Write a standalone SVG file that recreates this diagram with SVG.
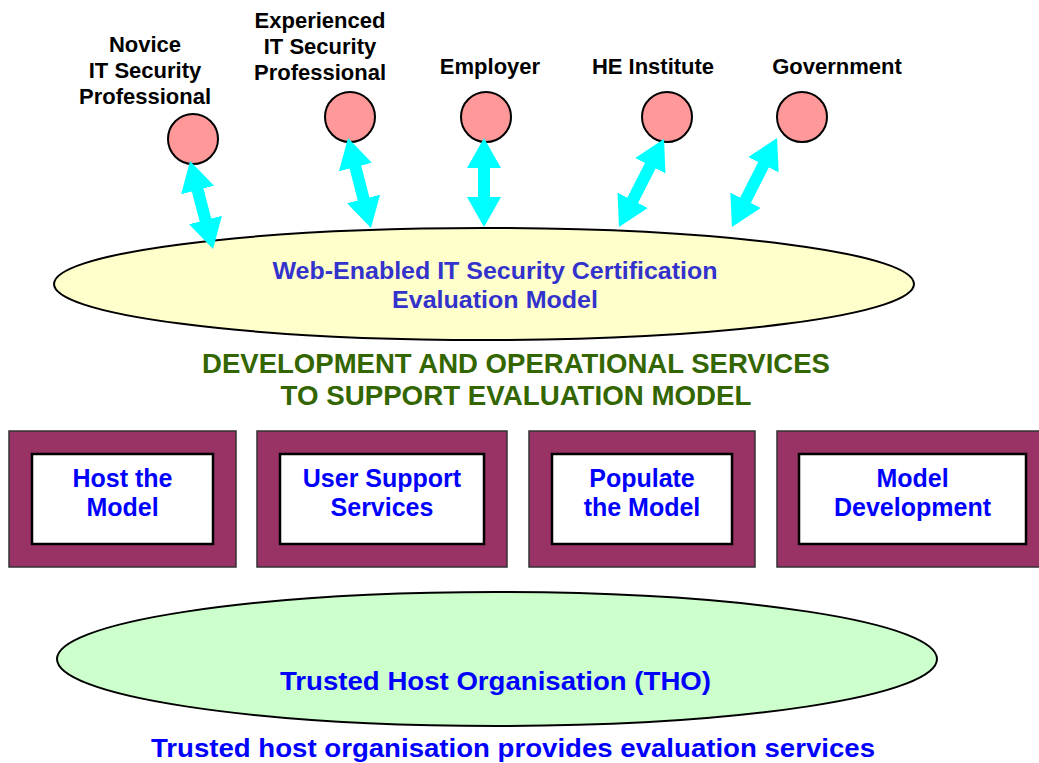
<svg xmlns="http://www.w3.org/2000/svg" width="1039" height="763" viewBox="0 0 1039 763">
  <style>
    text { font-family: "Liberation Sans", Arial, sans-serif; font-weight: bold; text-anchor: middle; }
    .who { font-size: 22px; fill: #000; }
    .party { fill: #FF9999; stroke: #000; stroke-width: 2; }
    .model { fill: #FFFFCC; stroke: #000; stroke-width: 2; }
    .model-t { font-size: 24.5px; fill: #3333CC; }
    .heading { font-size: 28px; fill: #336600; }
    .frame { fill: #993366; stroke: #333; stroke-width: 1.5; }
    .panel { fill: #FFFFFF; stroke: #000; stroke-width: 2.5; }
    .svc { font-size: 25px; fill: #0000FF; }
    .tho { fill: #CCFFCC; stroke: #000; stroke-width: 2; }
    .tho-t { font-size: 26px; fill: #0000FF; }
    .link { stroke: #00FFFF; stroke-width: 12; fill: none; marker-start: url(#head); marker-end: url(#head); }
  </style>
  <defs>
    <marker id="head" markerUnits="userSpaceOnUse" markerWidth="32" markerHeight="36" viewBox="0 -18 32 36" refX="10" refY="0" orient="auto-start-reverse">
      <path d="M0,-17 L30,0 L0,17 z" fill="#00FFFF"/>
    </marker>
  </defs>

  <rect width="1039" height="763" fill="#FFFFFF"/>

  <!-- stakeholders -->
  <g id="novice">
    <text class="who" x="145" y="52">Novice</text>
    <text class="who" x="145" y="78">IT Security</text>
    <text class="who" x="145" y="104">Professional</text>
    <circle class="party" cx="193" cy="139" r="25"/>
  </g>
  <g id="experienced">
    <text class="who" x="320" y="28">Experienced</text>
    <text class="who" x="320" y="54">IT Security</text>
    <text class="who" x="320" y="80">Professional</text>
    <circle class="party" cx="350" cy="117" r="25"/>
  </g>
  <g id="employer">
    <text class="who" x="490" y="74">Employer</text>
    <circle class="party" cx="486" cy="117" r="25"/>
  </g>
  <g id="he-institute">
    <text class="who" x="653" y="74">HE Institute</text>
    <circle class="party" cx="667" cy="117" r="25"/>
  </g>
  <g id="government">
    <text class="who" x="837" y="74">Government</text>
    <circle class="party" cx="802" cy="117" r="25"/>
  </g>

  <!-- evaluation model -->
  <g id="evaluation-model">
    <ellipse class="model" cx="484" cy="284" rx="430" ry="56"/>
    <text class="model-t" x="495" y="279" textLength="445" lengthAdjust="spacingAndGlyphs">Web-Enabled IT Security Certification</text>
    <text class="model-t" x="495" y="308" textLength="206" lengthAdjust="spacingAndGlyphs">Evaluation Model</text>
  </g>

  <!-- services heading -->
  <g id="services-heading">
    <text class="heading" x="516" y="373" textLength="628" lengthAdjust="spacingAndGlyphs">DEVELOPMENT AND OPERATIONAL SERVICES</text>
    <text class="heading" x="516" y="405" textLength="471" lengthAdjust="spacingAndGlyphs">TO SUPPORT EVALUATION MODEL</text>
  </g>

  <!-- service boxes -->
  <g id="host-model">
    <rect class="frame" x="9" y="431" width="227" height="136"/>
    <rect class="panel" x="32" y="454" width="181" height="90"/>
    <text class="svc" x="122.5" y="487">Host the</text>
    <text class="svc" x="122.5" y="516">Model</text>
  </g>
  <g id="user-support">
    <rect class="frame" x="257" y="431" width="250" height="136"/>
    <rect class="panel" x="280" y="454" width="204" height="90"/>
    <text class="svc" x="382" y="487">User Support</text>
    <text class="svc" x="382" y="516">Services</text>
  </g>
  <g id="populate-model">
    <rect class="frame" x="529" y="431" width="226" height="136"/>
    <rect class="panel" x="552" y="454" width="180" height="90"/>
    <text class="svc" x="642" y="487">Populate</text>
    <text class="svc" x="642" y="516">the Model</text>
  </g>
  <g id="model-development">
    <rect class="frame" x="777" y="431" width="272" height="136"/>
    <rect class="panel" x="799" y="454" width="227" height="90"/>
    <text class="svc" x="912.5" y="487">Model</text>
    <text class="svc" x="912.5" y="516">Development</text>
  </g>

  <!-- trusted host organisation -->
  <g id="tho">
    <ellipse class="tho" cx="497" cy="659" rx="440" ry="67"/>
    <text class="tho-t" x="495.5" y="690" textLength="431" lengthAdjust="spacingAndGlyphs">Trusted Host Organisation (THO)</text>
  </g>
  <g id="tho-caption">
    <text class="tho-t" x="513" y="757" textLength="724" lengthAdjust="spacingAndGlyphs">Trusted host organisation provides evaluation services</text>
  </g>

  <!-- two-way links between stakeholders and the model -->
  <g id="connectors">
    <line class="link" x1="195.1" y1="180.3" x2="208.0" y2="229.7"/>
    <line class="link" x1="352.95" y1="157.4" x2="366.05" y2="208.6"/>
    <line class="link" x1="484" y1="158" x2="484" y2="207"/>
    <line class="link" x1="654.9" y1="156.8" x2="628.1" y2="209.2"/>
    <line class="link" x1="768.0" y1="155.9" x2="741.0" y2="209.1"/>
  </g>
</svg>
